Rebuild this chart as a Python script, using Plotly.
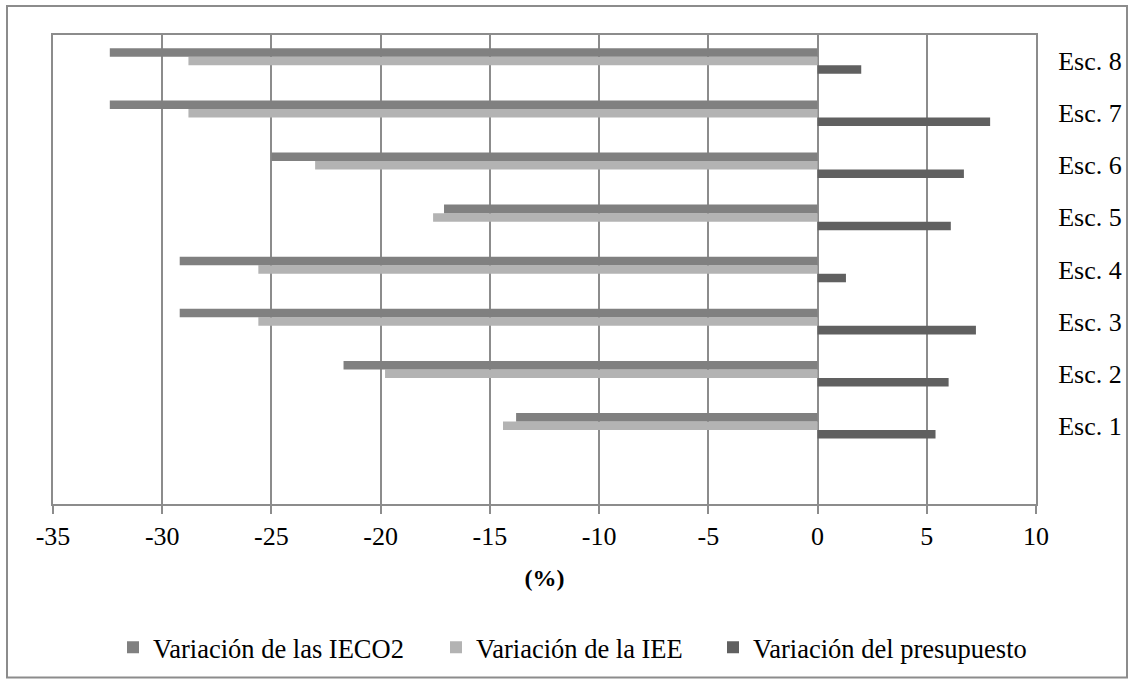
import plotly.graph_objects as go

categories = ["Esc. 1", "Esc. 2", "Esc. 3", "Esc. 4", "Esc. 5", "Esc. 6", "Esc. 7", "Esc. 8"]
var_ieco2 = [-13.8, -21.7, -29.2, -29.2, -17.1, -25.0, -32.4, -32.4]
var_iee = [-14.4, -19.8, -25.6, -25.6, -17.6, -23.0, -28.8, -28.8]
var_presupuesto = [5.4, 6.0, 7.25, 1.3, 6.1, 6.7, 7.9, 2.0]

series_names = ["Variación de las IECO2", "Variación de la IEE", "Variación del presupuesto"]
series_colors = ["#808080", "#b3b3b3", "#606060"]
x_ticks = [-35, -30, -25, -20, -15, -10, -5, 0, 5, 10]

FONT = "Liberation Serif"
grid_col = "#8c8c8c"

L, R, T, B = 53, 1036, 35, 504.3
PW, PH = R - L, B - T

def px2paper_x(px):
    return (px - L) / PW

def px2paper_y(py):
    return (B - py) / PH

# legend item left positions (pixel) for each series
legend_x_px = [113, 436, 713]
legend_ids = ["legend", "legend2", "legend3"]

fig = go.Figure()
data = [var_ieco2, var_iee, var_presupuesto]
for i in [2, 1, 0]:
    fig.add_trace(go.Bar(
        y=categories, x=data[i], orientation="h",
        name=series_names[i], marker=dict(color=series_colors[i], line=dict(width=0)),
        legend=legend_ids[i],
    ))

leg_common = dict(orientation="h", xanchor="left", y=px2paper_y(648), yanchor="middle",
                  font=dict(family=FONT, size=26.5, color="black"),
                  itemclick=False, itemdoubleclick=False, bgcolor="rgba(0,0,0,0)")

fig.update_layout(
    width=1134, height=684,
    margin=dict(l=L, r=1134 - R, t=T, b=684 - B, autoexpand=False),
    paper_bgcolor="white", plot_bgcolor="white",
    barmode="group", bargap=0.51, bargroupgap=0,
    font=dict(family=FONT, size=26, color="black"),
    showlegend=True,
    legend=dict(x=px2paper_x(legend_x_px[0]), **leg_common),
    legend2=dict(x=px2paper_x(legend_x_px[1]), **leg_common),
    legend3=dict(x=px2paper_x(legend_x_px[2]), **leg_common),
    xaxis=dict(
        range=[-35, 10], tickmode="array", tickvals=x_ticks,
        ticktext=[str(v) for v in x_ticks],
        showgrid=True, gridcolor=grid_col, gridwidth=2,
        zeroline=False, automargin=False,
        showline=True, linecolor=grid_col, linewidth=2, mirror=True,
        ticks="outside", ticklen=8, tickwidth=2, tickcolor=grid_col,
        tickfont=dict(family=FONT, size=26, color="black"),
        title=dict(text="<b>(%)</b>", font=dict(family=FONT, size=24, color="black"), standoff=19),
        fixedrange=True,
    ),
    yaxis=dict(
        categoryorder="array", categoryarray=categories,
        range=[-1.5, 7.5], side="right",
        showgrid=False, zeroline=False, automargin=False,
        showline=True, linecolor=grid_col, linewidth=2, mirror=True,
        ticks="", ticklabelstandoff=15,
        tickfont=dict(family=FONT, size=26, color="black"),
        fixedrange=True,
    ),
)

# outer chart border
fig.add_shape(type="rect", xref="paper", yref="paper",
              x0=px2paper_x(7), x1=px2paper_x(1127),
              y0=px2paper_y(678), y1=px2paper_y(6),
              line=dict(color="#8c8c8c", width=2), fillcolor="rgba(0,0,0,0)", layer="below")

fig.write_html("out.html")
